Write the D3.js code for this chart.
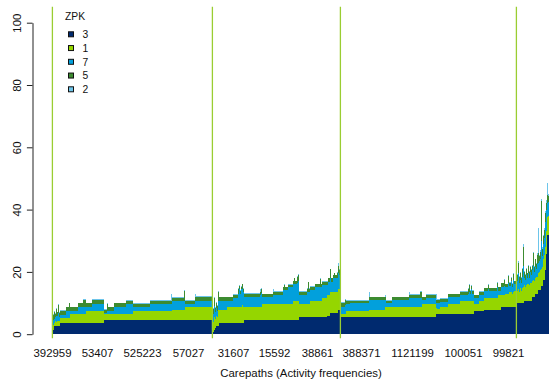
<!DOCTYPE html>
<html>
<head>
<meta charset="utf-8">
<script src="https://cdn.jsdelivr.net/npm/d3@7"></script>
<style>
  html, body { margin: 0; padding: 0; background: #fff; }
  svg { display: block; font-family: "Liberation Sans", Arial, Helvetica, sans-serif; }
</style>
</head>
<body>
<svg id="chart" width="549" height="387"></svg>
<script>
// Stacked activity frequencies per carepath (one thin bar per carepath).
// Consecutive carepaths with identical profiles are stored as runs:
// runLen[r] carepaths share the values zpk3[r], zpk1[r], zpk7[r], zpk5[r], zpk2[r].
const runLen = [
  // group 1
  1,1,1,1,1,1,1,1,6,3,1,8,5,3,6,12,3,1,6,12,7,17,21,1,12,1,10,1,16,
  // group 2
  1,1,1,1,1,1,1, 8,6,5,1,1,1,1,1,1, 16,1,1,11,1,9,1,1,3,5,1,1,2,1,1, 8,1,1,1,5,5,1,1,5, 1,2, 1,2,1,1,2,1, 1,1,
  // group 3
  5,1,4,19,1,15,1,6,17,1,10,2,4,10, 1,3,8,12,8,1,1,1,1,2, 5,5,4,1,8,1,3, 3,1,3,1,2,1,1,1,2,
  // group 4
  1,1,1,1,1,1,1,1,1,1,1,1,1,1,1,1,1,1,1,1,1,1,1,1,1,1,1,1,1,1,1,1,1
];

const zpk3 = [
  0.8,1.4,2.6,2.6,2.6,2.6,2.6,2.6,3.7,3.7,3.7,3.7,3.7,3.7,3.7,3.7,4.6,4.6,4.6,4.6,4.6,4.6,4.6,4.6,4.6,4.6,4.6,4.6,4.6,
  0.3,0.8,1.5,2.0,2.6,2.6,2.6, 3.6,3.6,3.6,3.6,3.6,3.6,3.6,3.6,3.6, 4.6,4.6,4.6,4.6,4.6,4.6,4.6,4.6,4.6,4.6,4.6,4.6,4.6,4.6,4.6, 5.5,5.5,5.5,5.5,5.5,5.5,5.5,5.5,5.5, 5.8,5.8, 6.8,6.8,6.8,6.8,6.8,6.8, 7.8,7.8,
  5.5,5.5,5.5,5.5,5.5,5.5,5.5,5.5,5.5,5.5,5.5,5.5,5.5,5.5, 6.5,6.5,6.5,6.5,6.5,6.5,6.5,6.5,6.5,6.5, 7.5,7.5,7.9,7.9,7.9,7.9,7.9, 8.8,8.8,8.8,8.8,8.8,8.8,8.8,8.8,8.8,
  8.8,9.9,9.9,9.9,9.9,9.9,9.9,9.9,10.8,10.8,10.8,10.8,10.8,10.8,10.8,10.8,11.9,11.9,11.9,12.9,12.9,12.9,14.2,14.2,14.2,15.5,15.5,17.4,17.4,20.6,25.7,31.8,31.8
];

const zpk1 = [
  1.7,1.6,1.0,1.7,1.2,1.7,1.7,1.7,1.6,1.6,1.6,2.8,2.8,2.8,3.8,3.8,1.9,1.9,1.9,1.9,1.9,2.9,2.9,2.9,3.2,3.2,4.1,4.1,4.1,
  4.7,3.2,4.0,3.0,3.4,2.9,5.2, 4.2,5.2,5.2,5.2,5.2,5.2,5.2,5.9,5.2, 4.2,4.2,4.2,5.1,5.1,5.1,5.1,5.1,5.1,5.1,6.1,6.1,6.1,6.1,6.1, 4.2,4.2,4.2,4.2,5.2,5.2,5.2,5.2,6.1, 6.8,6.8, 6.7,6.7,6.7,6.7,6.7,6.7, 6.7,6.7,
  1.0,1.0,2.0,2.0,2.3,2.3,3.2,3.2,3.2,3.2,3.2,3.2,4.3,4.3, 2.0,1.5,2.3,3.1,4.2,4.2,4.2,4.2,4.2,4.2, 2.1,3.2,3.7,3.7,3.7,3.7,4.7, 3.8,3.8,4.2,4.2,4.7,4.7,4.2,4.7,5.2,
  3.2,4.1,4.6,3.6,4.8,4.1,4.8,5.1,5.0,4.2,5.0,5.2,5.2,5.0,5.7,5.7,5.1,5.6,5.1,5.1,5.6,5.6,5.3,5.8,6.4,5.5,6.0,6.6,8.1,7.4,7.3,5.9,6.2
];

const zpk7 = [
  1.5,1.6,1.4,1.2,2.0,1.7,2.5,1.3,0.9,2.2,2.2,1.0,2.2,2.2,1.2,2.2,0.3,1.0,1.0,2.2,3.2,1.2,2.2,2.2,2.9,2.9,1.0,2.0,2.0,
  2.5,2.5,3.5,2.0,2.5,2.0,3.0, 3.0,2.0,2.8,4.2,5.6,4.2,5.6,4.9,4.7, 3.0,3.7,4.5,2.1,2.9,2.9,4.5,4.5,4.5,5.3,5.4,5.4,5.4,5.8,6.3, 2.9,3.7,3.7,3.7,3.5,4.3,4.3,4.3,4.2, 3.2,4.3, 4.5,3.4,4.4,4.4,4.4,4.4, 5.0,4.5,
  2.2,3.0,2.2,2.6,3.1,3.1,2.2,1.2,2.2,3.0,3.0,3.0,1.1,1.9, 1.5,1.9,1.6,2.2,1.9,2.3,2.8,2.1,3.8,2.3, 1.9,1.9,2.2,2.9,2.2,3.4,1.4, 2.4,2.9,2.0,3.5,2.0,3.5,2.0,4.0,2.0,
  2.0,3.0,5.0,3.0,2.8,2.5,3.8,7.0,2.2,2.5,3.2,2.0,3.5,2.2,3.5,2.5,3.5,4.5,3.0,3.5,2.5,4.0,3.5,3.5,3.4,9.0,3.5,5.0,5.5,8.0,7.0,4.3,4.5
];

const zpk5 = [
  1.2,1.7,2.2,1.0,2.2,1.0,2.5,1.2,1.3,1.1,2.4,1.1,1.2,2.3,1.2,1.2,1.0,2.3,1.1,1.2,1.0,1.1,1.1,1.1,1.0,3.2,1.1,1.2,1.3,
  2.0,1.5,2.5,1.5,1.5,1.5,2.8, 1.0,1.0,1.1,1.5,1.1,1.0,0.9,1.6,1.1, 1.0,1.1,1.1,1.0,1.0,1.0,0.8,1.6,0.8,0.9,0.9,1.8,0.9,2.0,2.0, 1.0,1.0,3.2,1.0,1.0,1.0,2.7,1.0,1.0, 1.0,1.0, 2.8,1.0,1.0,1.6,1.0,1.9, 2.5,1.5,
  1.3,1.5,1.1,0.7,0.9,0.9,0.9,0.9,0.9,0.9,0.9,1.9,0.9,0.9, 1.0,1.1,1.0,1.0,1.0,1.5,2.3,1.2,1.0,1.0, 1.0,1.0,0.9,1.3,0.9,1.5,1.0, 1.3,2.0,1.0,2.3,1.0,1.0,1.2,1.8,1.0,
  2.0,2.0,3.5,2.0,2.1,1.5,2.5,6.0,2.0,1.5,2.0,1.5,2.5,2.0,1.5,1.6,1.5,4.0,1.5,2.5,1.5,3.0,3.0,1.5,2.5,12.9,2.5,2.5,2.5,3.0,2.0,2.7,2.0
];

const zpk2 = [
  0.3,0.3,0.3,0.3,0.3,0.2,0.3,0.2,0.2,0.2,0.2,0.2,0.2,0.4,0.2,0.3,0.2,0.2,0.2,0.2,0.3,0.3,0.2,2.1,0.2,0.2,0.2,1.0,0.2,
  0.3,0.3,0.3,0.3,0.3,0.3,0.3, 0.2,0.2,0.2,0.2,0.2,0.3,0.3,0.2,0.2, 0.3,0.8,0.3,0.2,0.9,0.2,0.2,0.2,0.2,0.2,0.2,0.2,0.2,0.2,0.3, 0.3,0.3,0.3,0.3,0.2,0.2,0.2,0.2,0.2, 0.2,0.2, 0.2,0.2,0.2,0.3,0.2,0.3, 1.0,0.3,
  0.2,0.2,0.2,0.2,1.7,0.2,0.9,0.2,0.2,0.9,0.2,0.2,0.2,0.2, 2.0,0.2,0.2,0.2,0.2,0.2,0.2,0.2,0.2,0.2, 0.2,0.2,0.2,0.2,0.2,0.2,0.2, 0.2,0.3,0.2,0.2,0.3,0.3,0.2,0.2,0.2,
  0.3,0.3,0.5,0.3,0.4,0.3,0.3,1.0,0.3,0.3,0.3,0.3,0.3,0.3,0.3,0.4,0.3,0.5,0.3,0.3,0.3,0.5,8.0,0.3,0.5,0.4,0.5,0.5,0.5,0.5,1.0,3.9,0.5
];

// First carepath of each group (marked by a vertical line)
const groupStarts = [0, 160, 288, 464];

// Carepath names shown under the bars, and the bar each belongs to
const tickLabels = ["392959", "53407", "525223", "57027", "31607", "15592", "38861", "388371", "1121199", "100051", "99821"];
const tickBars = [0, 45, 90, 136, 181, 222, 265, 309, 360, 411, 456];

const yTicks = [0, 20, 40, 60, 80, 100];

// Legend order = stacking order (bottom to top)
const zpkKeys = ["3", "1", "7", "5", "2"];
const zpkColors = ["#002A6F", "#95D600", "#02A0DC", "#3C8B30", "#6DC5EA"];

// ---- build one record per carepath ----
const series = { "3": zpk3, "1": zpk1, "7": zpk7, "5": zpk5, "2": zpk2 };
const bars = [];
runLen.forEach((n, r) => {
  for (let k = 0; k < n; k++) {
    const rec = { id: bars.length };
    zpkKeys.forEach(key => { rec[key] = series[key][r]; });
    bars.push(rec);
  }
});

const svg = d3.select("#chart");
const x = d3.scaleBand().domain(bars.map(d => d.id)).range([52, 52 + bars.length]).padding(0);
const y = d3.scaleLinear().domain([0, 100]).range([334.2, 22.7]);
const color = d3.scaleOrdinal().domain(zpkKeys).range(zpkColors);

const stacked = d3.stack().keys(zpkKeys)(bars);

svg.append("g")
  .selectAll("g")
  .data(stacked)
  .join("g")
    .attr("fill", d => color(d.key))
  .selectAll("rect")
  .data(d => d)
  .join("rect")
    .attr("x", d => x(d.data.id))
    .attr("width", x.bandwidth())
    .attr("y", d => y(d[1]))
    .attr("height", d => Math.max(0, y(d[0]) - y(d[1])))
    .attr("shape-rendering", "crispEdges");

// group separators
svg.append("g")
  .selectAll("line")
  .data(groupStarts)
  .join("line")
    .attr("x1", d => x(d) + 0.4)
    .attr("x2", d => x(d) + 0.4)
    .attr("y1", 6.7)
    .attr("y2", 338.3)
    .attr("stroke", "#9ACD32")
    .attr("stroke-width", 1.3);

// y axis with vertical labels
const gy = svg.append("g")
  .attr("transform", "translate(32.5,0)")
  .call(d3.axisLeft(y).tickValues(yTicks).tickSize(5.6).tickSizeOuter(0).tickFormat(d3.format("d")))
  .attr("font-family", null)
  .attr("font-size", null);
gy.select(".domain").attr("stroke", "#222");
gy.selectAll(".tick line").attr("stroke", "#222");
gy.selectAll(".tick text")
  .attr("transform", "rotate(-90)")
  .attr("x", 0)
  .attr("y", -11.6)
  .attr("dy", 0)
  .attr("text-anchor", "middle")
  .attr("fill", "#111")
  .style("font-size", "11.4px");

// carepath names along the bottom
const labelOf = new Map(tickBars.map((b, i) => [b, tickLabels[i]]));
const gx = svg.append("g")
  .attr("transform", "translate(0,347)")
  .call(d3.axisBottom(x).tickValues(tickBars).tickSize(0).tickPadding(2.4).tickFormat(b => labelOf.get(b)))
  .attr("font-family", null)
  .attr("font-size", null);
gx.select(".domain").remove();
gx.selectAll(".tick text").attr("fill", "#111").style("font-size", "11.4px");

svg.append("text")
  .attr("x", 301)
  .attr("y", 377)
  .attr("text-anchor", "middle")
  .attr("fill", "#111")
  .style("font-size", "11.4px")
  .text("Carepaths (Activity frequencies)");

// legend
const legend = svg.append("g");
legend.append("text")
  .attr("x", 65)
  .attr("y", 20)
  .attr("fill", "#111")
  .style("font-size", "10.3px")
  .text("ZPK");
const items = legend.selectAll("g.item")
  .data(zpkKeys)
  .join("g")
    .attr("class", "item")
    .attr("transform", (d, i) => `translate(0,${34.3 + i * 13.75})`);
items.append("rect")
  .attr("x", 68.5)
  .attr("y", -2.5)
  .attr("width", 5)
  .attr("height", 5)
  .attr("fill", d => color(d))
  .attr("stroke", "#111")
  .attr("stroke-width", 1);
items.append("text")
  .attr("x", 82.5)
  .attr("y", 3.7)
  .attr("fill", "#111")
  .style("font-size", "10.3px")
  .text(d => d);
</script>
</body>
</html>
